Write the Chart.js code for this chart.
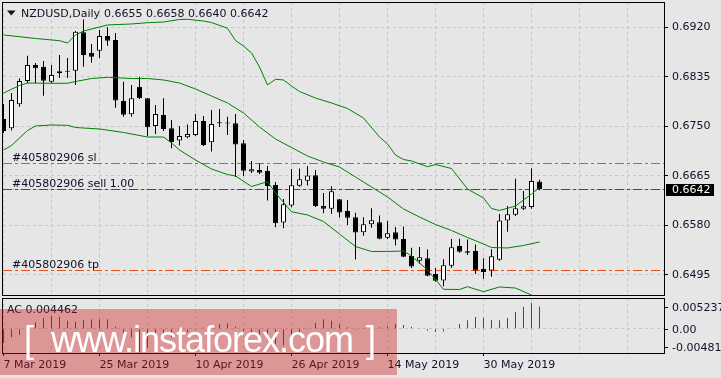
<!DOCTYPE html>
<html><head><meta charset="utf-8">
<script src="https://cdn.jsdelivr.net/npm/chart.js@4.4.1/dist/chart.umd.min.js"></script>
<style>
html,body{margin:0;padding:0;background:#e6e6e6;width:721px;height:378px;overflow:hidden;position:relative;}
canvas{position:absolute;left:0;}
#c1{top:0}
#c2{top:296px}
#wm{position:absolute;left:0;top:309px;width:397px;height:66px;background:rgba(205,20,20,0.38);color:#fff;font-family:"Liberation Sans",Arial,sans-serif;}
#wm span{position:absolute;font-size:36px;line-height:36px;top:13px;white-space:nowrap;}
</style></head><body>
<canvas id="c1" width="721" height="298"></canvas>
<canvas id="c2" width="721" height="82"></canvas>
<div id="wm"><span style="left:24px">[</span><span style="left:51px;letter-spacing:-1px">www.instaforex.com</span><span style="left:366px">]</span></div>
<script>
// ---------- data ----------
const symbolTitle = 'NZDUSD,Daily';
const ohlcTitle = ['0.6655', '0.6658', '0.6640', '0.6642'];
const opens  = [0.67625,0.67465,0.67877,0.68277,0.68552,0.68523,0.68265,0.68410,0.68444,0.68454,0.69114,0.68764,0.68798,0.69051,0.68982,0.67934,0.67705,0.68180,0.67980,0.67504,0.67693,0.67465,0.67255,0.67310,0.67350,0.67590,0.67224,0.67550,0.67554,0.67551,0.67207,0.66723,0.66749,0.66731,0.66491,0.65847,0.66139,0.66479,0.66565,0.66659,0.66130,0.66084,0.66247,0.66044,0.65936,0.65678,0.65816,0.65850,0.65586,0.65678,0.65563,0.65271,0.65190,0.65232,0.64962,0.64850,0.65103,0.65443,0.65352,0.65357,0.65048,0.65022,0.65208,0.65881,0.65979,0.66082,0.66113,0.66550];
const highs  = [0.67882,0.68071,0.68324,0.68712,0.68587,0.68621,0.68552,0.68724,0.68673,0.69136,0.69334,0.68913,0.69154,0.69200,0.69102,0.68265,0.68209,0.68351,0.67985,0.67865,0.67980,0.67608,0.67504,0.67530,0.67711,0.67676,0.67779,0.67796,0.67664,0.67711,0.67264,0.66903,0.66860,0.66817,0.66542,0.66250,0.66766,0.66774,0.66817,0.66749,0.66353,0.66469,0.66250,0.66233,0.66015,0.65936,0.66091,0.65967,0.65872,0.65769,0.65778,0.65414,0.65426,0.65383,0.65065,0.65215,0.65563,0.65567,0.65555,0.65469,0.65232,0.65388,0.65993,0.66130,0.66599,0.66388,0.66778,0.66580];
const lows   = [0.67384,0.67427,0.67836,0.68238,0.68238,0.68025,0.68238,0.68329,0.68329,0.68209,0.68523,0.68592,0.68673,0.68884,0.67819,0.67664,0.67664,0.67968,0.67333,0.67367,0.67419,0.67121,0.67169,0.67293,0.67333,0.67161,0.67066,0.67487,0.67350,0.66628,0.66646,0.66697,0.66675,0.66225,0.65764,0.65747,0.66108,0.66462,0.66482,0.66113,0.66005,0.65993,0.65933,0.65804,0.65211,0.65620,0.65757,0.65558,0.65563,0.65452,0.65249,0.65065,0.65139,0.64922,0.64830,0.64751,0.65065,0.65328,0.65288,0.64962,0.64881,0.64914,0.65189,0.65689,0.65958,0.66061,0.66084,0.66400];
const closes = [0.67419,0.67951,0.68277,0.68552,0.68496,0.68283,0.68381,0.68444,0.68437,0.69124,0.68724,0.68695,0.69051,0.68970,0.67943,0.67699,0.67980,0.67980,0.67482,0.67711,0.67453,0.67230,0.67333,0.67367,0.67590,0.67178,0.67539,0.67550,0.67549,0.67187,0.66737,0.66761,0.66702,0.66474,0.65833,0.66159,0.66486,0.66589,0.66654,0.66130,0.66082,0.66384,0.66018,0.65929,0.65675,0.65816,0.65885,0.65568,0.65661,0.65555,0.65259,0.65091,0.65249,0.64931,0.64847,0.65111,0.65422,0.65343,0.65326,0.65022,0.64998,0.65266,0.65881,0.65988,0.66091,0.66125,0.66560,0.66420];

// Bollinger bands, read at these bar indices
const upperIdx = [0,4,7,8,9,10,12,13,16,18,20,22,23,25,26,28,29,30,31,32,33,34,35,36,37,39,41,43,45,47,48,49,50,51,53,54,56,58,60,61,62,64,65,66,67];
const upperVal = [0.69068,0.69008,0.68970,0.68930,0.69068,0.69136,0.69205,0.69240,0.69257,0.69279,0.69291,0.69334,0.69337,0.69308,0.69282,0.69183,0.68973,0.68879,0.68759,0.68518,0.68209,0.68307,0.68295,0.68192,0.68097,0.67985,0.67900,0.67805,0.67642,0.67315,0.67195,0.67006,0.66929,0.66903,0.66805,0.66843,0.66774,0.66422,0.66268,0.66087,0.66053,0.66130,0.66233,0.66336,0.66448];
const middleIdx = [0,2,3,6,8,9,11,13,16,18,20,22,24,26,28,30,32,34,36,38,40,42,44,46,48,50,52,54,56,58,60,61,63,65,67];
const middleVal = [0.68071,0.68200,0.68243,0.68238,0.68238,0.68269,0.68320,0.68341,0.68320,0.68320,0.68295,0.68243,0.68140,0.68020,0.67900,0.67728,0.67487,0.67281,0.67135,0.66989,0.66886,0.66800,0.66628,0.66457,0.66285,0.66079,0.65941,0.65812,0.65709,0.65589,0.65477,0.65417,0.65409,0.65452,0.65512];
const lowerIdx = [0,1,2,3,4,6,8,9,10,12,15,18,20,21,22,24,26,28,29,31,33,34,36,38,40,42,44,46,48,50,51,53,55,57,58,60,62,64,66,67];
const lowerVal = [0.67092,0.67169,0.67298,0.67427,0.67504,0.67522,0.67516,0.67479,0.67470,0.67453,0.67393,0.67315,0.67315,0.67212,0.67092,0.66920,0.66766,0.66671,0.66646,0.66465,0.66548,0.66353,0.66032,0.65976,0.65864,0.65649,0.65434,0.65349,0.65349,0.65357,0.65271,0.65031,0.64699,0.64696,0.64744,0.64658,0.64739,0.64721,0.64601,0.64550];

// Accelerator oscillator
const acValues = [-0.0029,-0.0017,-0.0012,0.0007,0.0013,0.0021,0.0026,0.0024,0.0016,0.0014,0.0017,0.00185,0.0019,0.00188,0.0004,-0.0009,-0.0017,-0.004817,-0.0038,-0.0030,-0.0023,-0.0017,-0.0012,-0.0007,-0.0002,0.0002,0.0006,0.0009,0.0011,0.0004,-0.0005,-0.0011,-0.0016,-0.0023,-0.0031,-0.0034,-0.0022,-0.0010,0.0002,0.0012,0.0019,0.0016,0.0009,0.0003,-0.0002,0.00005,0.00015,0.00028,0.00048,0.00095,0.00074,0.0004,0.00013,-0.0004,-0.00067,-0.00054,-0.00013,0.00094,0.00168,0.00235,0.00222,0.00175,0.0017,0.00215,0.00336,0.00443,0.005237,0.004462];
const acCurrent = '0.004462';
const acTickVals = [0.005237, 0, -0.004817];
const acTickLabels = ['0.005237', '0.00', '-0.004817'];

const priceTicks = [0.6920, 0.6835, 0.6750, 0.6665, 0.6580, 0.6495];
const gridIdx = [0,6,12,18,24,30,36,42,48,54,60,66,72,78];
const dateTickIdx = [0, 12, 24, 36, 48, 60];
const dateTickLabels = ['7 Mar 2019', '25 Mar 2019', '10 Apr 2019', '26 Apr 2019', '14 May 2019', '30 May 2019'];

const orderId = '#405802906';
const orderSL = 0.66865, orderOpen = 0.6642, orderTP = 0.65036, bidPrice = 0.6642;

// ---------- styling ----------
const FONT = 'DejaVu Sans';
Chart.defaults.font.family = FONT;
Chart.defaults.font.size = 11;
Chart.defaults.color = '#000';
const TXT = '#101028';
const GRID = '#c6c6c6';
const DASH = [3, 3];
const BAND = '#008000';
const XMIN = -0.0625, XMAX = 82.5625;
const YMIN = 0.645839, YMAX = 0.696346;
const ACMIN = -0.004894, ACMAX = 0.006183;
const idx = opens.map((_, i) => i);

function pts(ix, vals) { return ix.map((x, k) => ({x: x, y: vals[k]})); }
function noPad(s) { s.paddingTop = 0; s.paddingBottom = 0; s.paddingLeft = 0; s.paddingRight = 0; }

const mainPlugin = {
  id: 'mainDecor',
  beforeDatasetsDraw(chart) {
    const {ctx, chartArea: a, scales: {y}} = chart;
    ctx.save();
    ctx.beginPath(); ctx.rect(a.left, a.top, a.right - a.left, a.bottom - a.top); ctx.clip();
    const hline = (v, color, dash) => {
      const py = Math.round(y.getPixelForValue(v)) + 0.5;
      ctx.strokeStyle = color; ctx.lineWidth = 1; ctx.setLineDash(dash);
      ctx.beginPath(); ctx.moveTo(a.left, py); ctx.lineTo(a.right, py); ctx.stroke();
    };
    hline(bidPrice, '#c4c4c4', []);
    hline(orderSL, '#ee4d1c', [9, 3, 3, 3]);
    hline(orderTP, '#ee4d1c', [9, 3, 3, 3]);
    hline(orderOpen, '#008000', [9, 3, 3, 3]);
    ctx.restore();
  },
  afterDraw(chart) {
    const {ctx, chartArea: a, scales: {y}} = chart;
    ctx.save();
    ctx.setLineDash([]);
    ctx.strokeStyle = '#000'; ctx.lineWidth = 1;
    ctx.strokeRect(2.5, 2.5, 662, 293);
    ctx.fillStyle = TXT;
    ctx.beginPath(); ctx.moveTo(7, 10.5); ctx.lineTo(15.5, 10.5); ctx.lineTo(11.25, 15.5); ctx.closePath(); ctx.fill();
    ctx.font = '11px "' + FONT + '"';
    ctx.textBaseline = 'alphabetic'; ctx.textAlign = 'left';
    ctx.fillText(symbolTitle, 21, 17);
    ctx.fillText(ohlcTitle.join(' '), 104, 17);
    const lab = (v, t) => {
      const py = Math.round(y.getPixelForValue(v)) + 0.5;
      ctx.fillText(t, 12, py - 3);
    };
    lab(orderSL, orderId + ' sl');
    lab(orderOpen, orderId + ' sell 1.00');
    lab(orderTP, orderId + ' tp');
    const pb = Math.round(y.getPixelForValue(bidPrice));
    ctx.fillStyle = '#000';
    ctx.fillRect(666, pb - 5, 48, 12);
    ctx.fillStyle = '#fff';
    ctx.textBaseline = 'middle';
    ctx.fillText(bidPrice.toFixed(4), 672, pb + 1);
    ctx.restore();
  }
};

new Chart(document.getElementById('c1'), {
  type: 'bar',
  data: {
    datasets: [
      {type: 'line', data: pts(upperIdx, upperVal), borderColor: BAND, borderWidth: 1, pointRadius: 0, tension: 0, order: 1},
      {type: 'line', data: pts(middleIdx, middleVal), borderColor: BAND, borderWidth: 1, pointRadius: 0, tension: 0, order: 1},
      {type: 'line', data: pts(lowerIdx, lowerVal), borderColor: BAND, borderWidth: 1, pointRadius: 0, tension: 0, order: 1},
      {type: 'bar', data: idx.map(i => ({x: i, y: [opens[i], closes[i]]})),
        backgroundColor: idx.map(i => closes[i] > opens[i] ? '#ffffff' : '#000000'),
        borderColor: '#000', borderWidth: 1, borderSkipped: false, barThickness: 5,
        grouped: false, inflateAmount: 0, minBarLength: 1, order: 3},
      {type: 'bar', data: idx.map(i => ({x: i, y: [lows[i], highs[i]]})),
        backgroundColor: '#000', borderWidth: 0, barThickness: 1, grouped: false, inflateAmount: 0, order: 4}
    ]
  },
  options: {
    responsive: false, animation: false, devicePixelRatio: 1, events: [],
    layout: {padding: {left: 3, top: 2, right: 0, bottom: 2}},
    plugins: {legend: {display: false}, tooltip: {enabled: false}},
    scales: {
      x: {type: 'linear', min: XMIN, max: XMAX, offset: false,
        afterBuildTicks: s => { s.ticks = gridIdx.map(v => ({value: v})); },
        afterFit: s => { s.height = 0; noPad(s); },
        ticks: {display: false},
        grid: {color: GRID, drawTicks: false, offset: false, borderDash: DASH},
        border: {display: false, dash: DASH}},
      y: {type: 'linear', position: 'right', min: YMIN, max: YMAX,
        afterBuildTicks: s => { s.ticks = priceTicks.map(v => ({value: v})); },
        afterFit: s => { s.width = 57; noPad(s); },
        ticks: {padding: 4, autoSkip: false, color: TXT, callback: v => Number(v).toFixed(4)},
        grid: {color: GRID, tickColor: '#000', tickLength: 4, drawTicks: true, borderDash: DASH},
        border: {display: false, dash: DASH}}
    }
  },
  plugins: [mainPlugin]
});

const acPlugin = {
  id: 'acDecor',
  afterDraw(chart) {
    const {ctx, chartArea: a, scales: {y}} = chart;
    ctx.save();
    ctx.setLineDash([]);
    ctx.strokeStyle = '#000'; ctx.lineWidth = 1;
    ctx.strokeRect(2.5, 2.5, 662, 55);
    ctx.font = '11px "' + FONT + '"';
    ctx.fillStyle = TXT;
    ctx.textAlign = 'left'; ctx.textBaseline = 'middle';
    ctx.fillText('AC ' + acCurrent, 7, 14);
    acTickVals.forEach((v, k) => {
      let py = y.getPixelForValue(v);
      py = Math.min(Math.max(py, a.top + 9), a.bottom - 6);
      py = Math.round(py);
      ctx.strokeStyle = '#000';
      ctx.beginPath(); ctx.moveTo(664, py + 0.5); ctx.lineTo(668, py + 0.5); ctx.stroke();
      ctx.fillText(acTickLabels[k], 672, py + 1);
    });
    ctx.restore();
  }
};

new Chart(document.getElementById('c2'), {
  type: 'bar',
  data: {
    datasets: [
      {type: 'bar', data: idx.map(i => ({x: i, y: acValues[i]})),
        backgroundColor: idx.map(i => (i === 0 || acValues[i] > acValues[i - 1]) ? '#008000' : '#ff0000'),
        borderWidth: 0, barThickness: 1, grouped: false, inflateAmount: 0}
    ]
  },
  options: {
    responsive: false, animation: false, devicePixelRatio: 1, events: [],
    layout: {padding: {left: 3, top: 2, right: 0, bottom: 0}},
    plugins: {legend: {display: false}, tooltip: {enabled: false}},
    scales: {
      x: {type: 'linear', min: XMIN, max: XMAX, offset: false,
        afterBuildTicks: s => { s.ticks = gridIdx.map(v => ({value: v})); },
        afterFit: s => { s.height = 25; noPad(s); },
        ticks: {display: true, align: 'start', autoSkip: false, maxRotation: 0, minRotation: 0, padding: 3, color: TXT,
          callback: v => { const k = dateTickIdx.indexOf(Math.round(v)); return k >= 0 ? dateTickLabels[k] : ''; }},
        grid: {color: GRID, drawTicks: true, tickLength: 3, offset: false, borderDash: DASH,
          tickColor: c => (c.tick && dateTickIdx.indexOf(Math.round(c.tick.value)) >= 0) ? '#000' : 'rgba(0,0,0,0)'},
        border: {display: false, dash: DASH}},
      y: {type: 'linear', position: 'right', min: ACMIN, max: ACMAX,
        afterBuildTicks: s => { s.ticks = [{value: 0}]; },
        afterFit: s => { s.width = 57; noPad(s); },
        ticks: {display: false},
        grid: {color: GRID, drawTicks: false, borderDash: DASH},
        border: {display: false, dash: DASH}}
    }
  },
  plugins: [acPlugin]
});
</script>
</body></html>
